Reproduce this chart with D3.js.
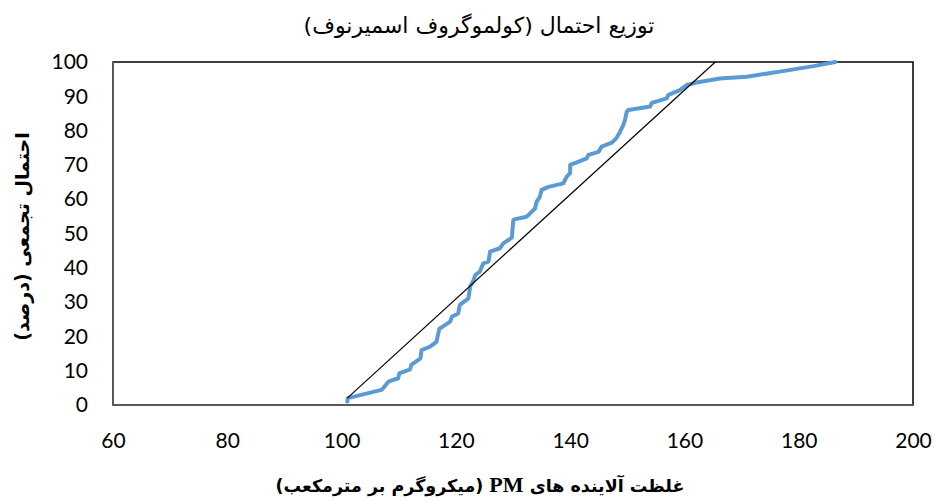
<!DOCTYPE html>
<html>
<head>
<meta charset="utf-8">
<script src="https://cdn.jsdelivr.net/npm/d3@7"></script>
<style>
  body { margin: 0; background: #fff; }
  svg { display: block; }
</style>
</head>
<body>
<div id="chart"></div>
<script>
// concentration (x) and cumulative percent (y)
const concValues = [101.0, 101.1, 107.0, 108.2, 109.9, 110.1, 112.0, 112.2, 113.8, 114.0, 115.5, 116.6, 117.1, 119.0, 119.3,
  120.4, 120.7, 122.2, 122.5, 123.1, 123.4, 124.2, 124.8, 125.7, 126.0, 127.7, 128.3, 129.8, 130.05, 130.4,
  132.4, 133.3, 133.85, 134.15, 134.7, 135.0, 136.2, 138.8, 139.4, 140.0, 140.0, 141.4, 142.9, 143.2, 144.95,
  145.5, 147.3, 148.1, 148.7, 149.3, 149.6, 149.9, 150.2, 154.0, 154.3, 156.9, 157.2, 159.2, 160.4, 162.1,
  166.2, 170.9, 176.7, 182.6, 186.4];
const cumPercent = [1.0, 2.0, 4.4, 6.8, 7.8, 9.2, 10.4, 11.7, 13.6, 16.0, 17.0, 18.4, 22.2, 24.3, 25.7,
  26.7, 29.2, 31.1, 34.5, 36.4, 37.9, 38.9, 41.3, 41.8, 44.7, 45.7, 47.1, 48.8, 53.9, 54.2,
  54.9, 56.4, 57.3, 59.3, 60.7, 62.7, 63.6, 64.6, 66.6, 67.6, 70.0, 70.9, 71.9, 72.9, 73.8,
  75.3, 76.5, 77.8, 79.6, 81.6, 83.1, 85.5, 86.0, 87.0, 88.1, 89.4, 90.4, 91.8, 93.3, 94.0,
  95.2, 95.7, 97.2, 98.8, 100];

// straight reference line
const fitX = [101.0, 165.4];
const fitY = [2.0, 100];

const xTicks = [60, 80, 100, 120, 140, 160, 180, 200];
const yTicks = [0, 10, 20, 30, 40, 50, 60, 70, 80, 90, 100];

const titleText = 'توزیع احتمال (کولموگروف اسمیرنوف)';
const yLabelText = 'احتمال تجمعی (درصد)';
const xLabelBefore = 'غلظت آلاینده های  ';
const xLabelPM = 'PM';
const xLabelAfter = ' (میکروگرم بر مترمکعب)';

const width = 935;
const height = 502;
const margin = { top: 62, right: 22, bottom: 97, left: 113 };
const plotW = width - margin.left - margin.right;
const plotH = height - margin.top - margin.bottom;

const svg = d3.select('#chart')
  .append('svg')
    .attr('width', width)
    .attr('height', height);

const x = d3.scaleLinear().domain([60, 200]).range([0, plotW]);
const y = d3.scaleLinear().domain([0, 100]).range([plotH, 0]);

const plot = svg.append('g')
  .attr('transform', `translate(${margin.left},${margin.top})`);

const tickFont = 'Lato, "Open Sans", sans-serif';

// axes, tick lines hidden
const xAxis = plot.append('g')
  .attr('transform', `translate(0,${plotH})`)
  .call(d3.axisBottom(x).tickValues(xTicks).tickSize(0).tickPadding(28));
const yAxis = plot.append('g')
  .call(d3.axisLeft(y).tickValues(yTicks).tickSize(0).tickPadding(25));

[xAxis, yAxis].forEach(a => {
  a.select('.domain').remove();
  a.selectAll('text')
    .attr('font-family', tickFont)
    .attr('font-size', 21)
    .attr('fill', '#000');
});

// plot frame
plot.append('rect')
  .attr('width', plotW)
  .attr('height', plotH)
  .attr('fill', 'none')
  .attr('stroke', '#000')
  .attr('stroke-width', 1.5);
plot.append('line')
  .attr('x1', 0).attr('x2', plotW)
  .attr('y1', plotH).attr('y2', plotH)
  .attr('stroke', '#595959').attr('stroke-width', 2);
plot.append('line')
  .attr('x1', 0).attr('x2', 0)
  .attr('y1', 0).attr('y2', plotH)
  .attr('stroke', '#595959').attr('stroke-width', 2);

const line = d3.line()
  .x(d => x(d[0]))
  .y(d => y(d[1]));

plot.append('path')
  .datum(d3.zip(concValues, cumPercent))
  .attr('d', line)
  .attr('fill', 'none')
  .attr('stroke', '#5B9BD5')
  .attr('stroke-width', 4)
  .attr('stroke-linejoin', 'round')
  .attr('stroke-linecap', 'round');

plot.append('path')
  .datum(d3.zip(fitX, fitY))
  .attr('d', line)
  .attr('fill', 'none')
  .attr('stroke', '#000')
  .attr('stroke-width', 1.2);

// titles
const arabicFont = '"DejaVu Sans", sans-serif';

svg.append('text')
  .attr('x', 479)
  .attr('y', 33)
  .attr('text-anchor', 'middle')
  .attr('direction', 'rtl')
  .attr('font-family', arabicFont)
  .attr('font-size', 22)
  .text(titleText);

svg.append('text')
  .attr('transform', `translate(29,${margin.top + plotH / 2 + 3}) rotate(-90)`)
  .attr('text-anchor', 'middle')
  .attr('direction', 'rtl')
  .attr('font-family', arabicFont)
  .attr('font-weight', 'bold')
  .attr('font-size', 19)
  .text(yLabelText);

const xLabel = svg.append('text')
  .attr('x', 480)
  .attr('y', 492)
  .attr('text-anchor', 'middle')
  .attr('direction', 'rtl')
  .attr('font-family', arabicFont)
  .attr('font-weight', 'bold')
  .attr('font-size', 17.5);
xLabel.append('tspan').text(xLabelBefore);
xLabel.append('tspan')
  .attr('font-family', '"Liberation Serif", serif')
  .attr('font-size', 22)
  .text(xLabelPM);
xLabel.append('tspan').text(xLabelAfter);
</script>
</body>
</html>
